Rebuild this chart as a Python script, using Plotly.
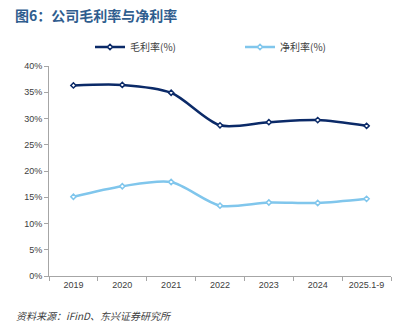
import plotly.graph_objects as go

years = ["2019", "2020", "2021", "2022", "2023", "2024", "2025.1-9"]
gross_margin = [36.3, 36.4, 34.9, 28.7, 29.3, 29.7, 28.6]
net_margin = [15.1, 17.1, 17.9, 13.4, 14.0, 13.9, 14.7]
y_ticks = [0, 5, 10, 15, 20, 25, 30, 35, 40]
y_tick_labels = [f"{v}%" for v in y_ticks]

navy = "#0B2A68"
sky = "#80C6EC"
axis_grey = "#A6A6A6"
cjk = "Noto Sans CJK SC"

fig = go.Figure()
fig.add_trace(go.Scatter(
    x=years, y=gross_margin, name="毛利率(%)", mode="lines+markers",
    line=dict(color=navy, width=2.5, shape="spline", smoothing=0.8),
    marker=dict(symbol="diamond", size=4, color="white",
                line=dict(color=navy, width=1.5)),
    legend="legend",
))
fig.add_trace(go.Scatter(
    x=years, y=net_margin, name="净利率(%)", mode="lines+markers",
    line=dict(color=sky, width=2.5, shape="spline", smoothing=0.8),
    marker=dict(symbol="diamond", size=4, color="white",
                line=dict(color=sky, width=1.5)),
    legend="legend2",
))

legend_style = dict(
    orientation="h", xref="container", xanchor="left",
    yref="container", y=1 - 47 / 331, yanchor="middle",
    font=dict(family=cjk, size=10, color="#404040"),
    bgcolor="rgba(0,0,0,0)",
)

fig.update_layout(
    width=404, height=331,
    margin=dict(l=49, r=13, t=66, b=55, autoexpand=False),
    paper_bgcolor="white", plot_bgcolor="white",
    showlegend=True,
    legend=dict(legend_style, x=90 / 404),
    legend2=dict(legend_style, x=240 / 404),
    font=dict(family="Liberation Sans, Arial", size=9, color="#404040"),
)

fig.update_xaxes(
    type="category", showline=True, linecolor=axis_grey, linewidth=1,
    showgrid=False, ticks="outside", ticklen=4, tickcolor=axis_grey,
    tickson="boundaries", tickfont=dict(size=9, color="#404040"),
    range=[-0.5, 6.5],
)
fig.update_yaxes(
    range=[0, 40], tickvals=y_ticks, ticktext=y_tick_labels,
    showline=True, linecolor=axis_grey, linewidth=1, showgrid=False,
    ticks="outside", ticklen=4, tickcolor=axis_grey, zeroline=False,
    tickfont=dict(size=9, color="#404040"),
)

fig.add_annotation(
    text="<b>图6：公司毛利率与净利率</b>", xref="paper", yref="paper",
    x=-36 / 342, y=1 + (66 - 15) / 210, xanchor="left", yanchor="middle",
    showarrow=False, font=dict(family=cjk, size=14, color="#2F5D8E"),
)
fig.add_annotation(
    text="<i>资料来源：iFinD、东兴证券研究所</i>", xref="paper", yref="paper",
    x=-35 / 342, y=-(315 - 276) / 210, xanchor="left", yanchor="middle",
    showarrow=False, font=dict(family=cjk, size=10, color="#404040"),
)

fig.write_html("out.html")
